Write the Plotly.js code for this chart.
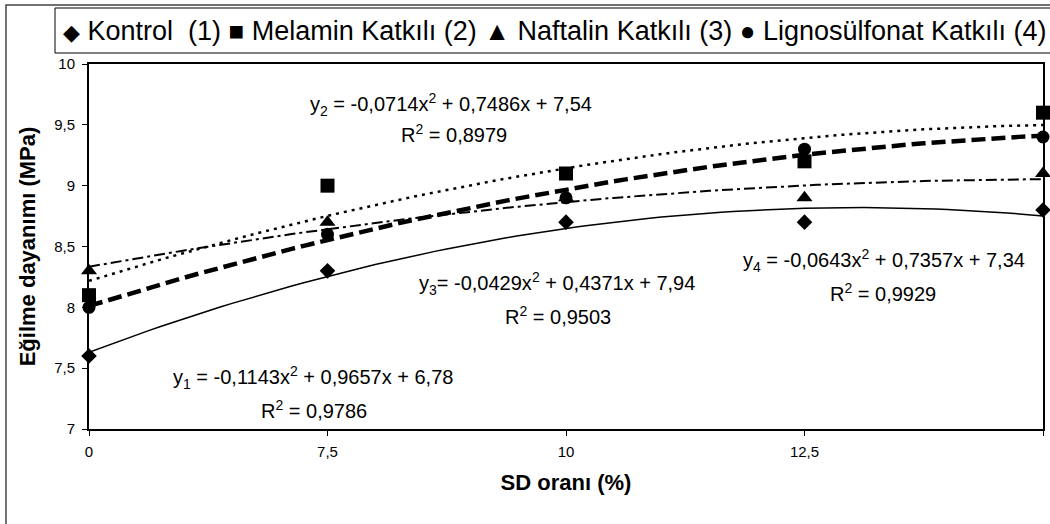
<!DOCTYPE html>
<html>
<head>
<meta charset="utf-8">
<script src="https://cdn.plot.ly/plotly-3.0.1.min.js"></script>
<style>html,body{margin:0;padding:0;background:#fff;}#chart{width:1050px;height:524px;}</style>
</head>
<body>
<div id="chart"></div>
<script>
// Categories (SD oranı, %)
const sdLabels = ['0', '7,5', '10', '12,5', '15'];
const sdPos = [1, 2, 3, 4, 5];

// Series values (Eğilme dayanımı, MPa)
const kontrol = [7.6, 8.3, 8.7, 8.7, 8.8];
const melamin = [8.1, 9.0, 9.1, 9.2, 9.6];
const naftalin = [8.3, 8.7, 8.9, 8.9, 9.1];
const ligno = [8.0, 8.6, 8.9, 9.3, 9.4];

const seriesNames = ['Kontrol  (1)', 'Melamin Katkılı (2)', 'Naftalin Katkılı (3)', 'Lignosülfonat Katkılı (4)'];

// Trendline coefficients as printed on the chart: y = a x^2 + b x + c
const trendA = [-0.1143, -0.0714, -0.0429, -0.0643];
const trendB = [0.9657, 0.7486, 0.4371, 0.7357];
const trendC = [6.78, 7.54, 7.94, 7.34];

const yTicks = [7, 7.5, 8, 8.5, 9, 9.5, 10];
const yTickText = ['7', '7,5', '8', '8,5', '9', '9,5', '10'];

const FONT = '"Liberation Sans", Arial, sans-serif';

function curve(i) {
  const xs = [], ys = [];
  for (let k = 0; k <= 80; k++) {
    const x = 1 + k * 0.05;
    xs.push(x);
    ys.push(trendA[i] * x * x + trendB[i] * x + trendC[i]);
  }
  return {xs, ys};
}

const lineStyles = [
  {width: 1.5, dash: 'solid'},
  {width: 2.5, dash: '3px,5px'},
  {width: 2, dash: '11px,4px,3px,4px'},
  {width: 4.5, dash: '14px,6px'}
];
const symbols = ['diamond', 'square', 'triangle-up', 'circle'];
const sizes = [12, 14, 14, 13];
const values = [kontrol, melamin, naftalin, ligno];

const traces = [];
for (let i = 0; i < 4; i++) {
  const c = curve(i);
  traces.push({x: c.xs, y: c.ys, mode: 'lines', type: 'scatter', showlegend: false,
    line: {color: '#000', width: lineStyles[i].width, dash: lineStyles[i].dash}, hoverinfo: 'skip'});
}
for (let i = 0; i < 4; i++) {
  traces.push({x: sdPos, y: values[i], mode: 'markers', type: 'scatter', name: seriesNames[i],
    showlegend: false, cliponaxis: false,
    marker: {symbol: symbols[i], size: sizes[i], color: '#000'}});
}

const eqFont = {family: FONT, size: 20, color: '#000'};
function px2x(p) { return (p - 89) / 954; }
function px2y(p) { return (429 - p) / 365; }

const annotations = [
  {text: 'y<sub>2</sub> = -0,0714x<sup>2</sup> + 0,7486x + 7,54', cx: 451, cy: 104},
  {text: 'R<sup>2</sup> = 0,8979', cx: 454, cy: 133},
  {text: 'y<sub>3</sub>= -0,0429x<sup>2</sup> + 0,4371x + 7,94', cx: 557, cy: 283},
  {text: 'R<sup>2</sup> = 0,9503', cx: 558, cy: 315},
  {text: 'y<sub>4</sub> = -0,0643x<sup>2</sup> + 0,7357x + 7,34', cx: 884, cy: 260},
  {text: 'R<sup>2</sup> = 0,9929', cx: 883, cy: 292},
  {text: 'y<sub>1</sub> = -0,1143x<sup>2</sup> + 0,9657x + 6,78', cx: 313, cy: 377},
  {text: 'R<sup>2</sup> = 0,9786', cx: 314, cy: 409}
].map(a => ({text: a.text, xref: 'paper', yref: 'paper', x: px2x(a.cx), y: px2y(a.cy),
  xanchor: 'center', yanchor: 'middle', showarrow: false, font: eqFont}));

const sym = (s, sz) => '<span style="font-size:' + sz + 'px">' + s + '</span>';
annotations.push({
  text: sym('◆', 22) + ' Kontrol\u00a0\u00a0(1) ' + sym('■', 26) + ' Melamin Katkılı (2) ' + sym('▲', 26) + ' Naftalin Katkılı (3) ' + sym('●', 26) + ' Lignosülfonat Katkılı (4)',
  xref: 'paper', yref: 'paper', x: px2x(61), y: px2y(31), xanchor: 'left', yanchor: 'middle',
  showarrow: false, font: {family: FONT, size: 27, color: '#000'}
});

const layout = {
  width: 1050, height: 524,
  margin: {l: 89, r: 7, t: 64, b: 95},
  paper_bgcolor: '#fff', plot_bgcolor: '#fff',
  font: {family: FONT, color: '#000'},
  showlegend: false,
  xaxis: {
    range: [1, 5], tickvals: sdPos, ticktext: sdLabels,
    showgrid: false, zeroline: false, showline: true, linecolor: '#000', linewidth: 2, mirror: true,
    ticks: 'outside', ticklen: 5, tickwidth: 1, tickcolor: '#000', ticklabelstandoff: 3,
    tickfont: {family: FONT, size: 15, color: '#000'},
    title: {text: '<b>SD oranı (%)</b>', font: {family: FONT, size: 22, color: '#000'}, standoff: 16}
  },
  yaxis: {
    range: [7, 10], tickvals: yTicks, ticktext: yTickText,
    showgrid: false, zeroline: false, showline: true, linecolor: '#000', linewidth: 2, mirror: true,
    ticks: 'outside', ticklen: 5, tickwidth: 1, tickcolor: '#000', ticklabelstandoff: 4,
    tickfont: {family: FONT, size: 15, color: '#000'},
    title: {text: '<b>Eğilme dayanımı (MPa)</b>', font: {family: FONT, size: 22, color: '#000'}, standoff: 12}
  },
  shapes: [
    {type: 'rect', xref: 'paper', yref: 'paper', x0: px2x(6), x1: 1.1, y0: -0.5, y1: px2y(5),
      line: {color: '#444', width: 1.5}, fillcolor: 'rgba(0,0,0,0)', layer: 'below'},
    {type: 'rect', xref: 'paper', yref: 'paper', x0: px2x(55), x1: 1.1, y0: px2y(53), y1: px2y(8),
      line: {color: '#000', width: 1}, fillcolor: 'rgba(0,0,0,0)'}
  ],
  annotations: annotations
};

Plotly.newPlot('chart', traces, layout, {displayModeBar: false, staticPlot: true});
</script>
</body>
</html>
